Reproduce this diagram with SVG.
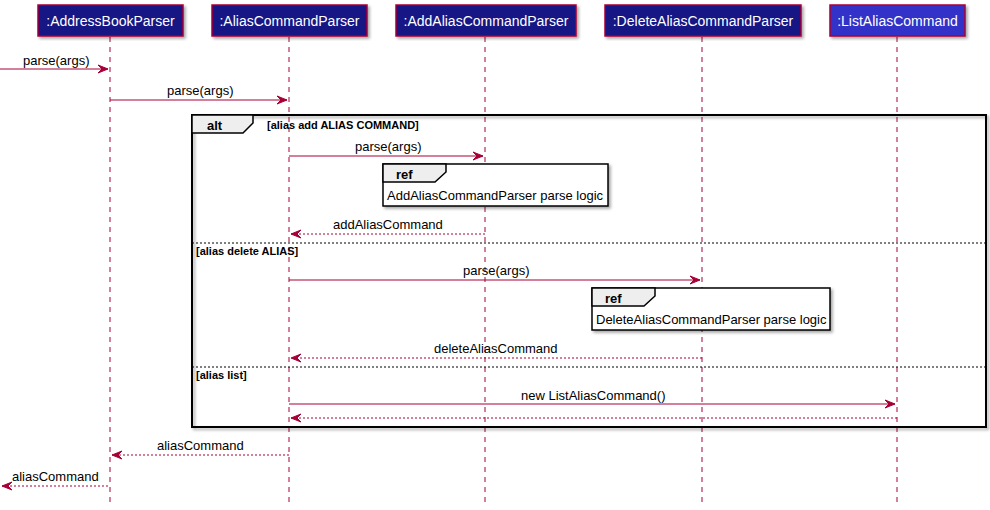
<svg xmlns="http://www.w3.org/2000/svg" width="990" height="510" viewBox="0 0 990 510">
<style>
.life{stroke:#A80036;stroke-width:1;stroke-dasharray:5,5;fill:none}
.pbox{fill:#131384;stroke:#A80036;stroke-width:1.5}
.pbox2{fill:#3333C8;stroke:#A80036;stroke-width:1.5}
.ptxt{font-family:"Liberation Sans",Arial,sans-serif;font-size:14px;fill:#FFFFFF}
.msg{stroke:#A80036;stroke-width:1;fill:none}
.ret{stroke:#A80036;stroke-width:1;fill:none;stroke-dasharray:2,2}
.mtxt{font-family:"Liberation Sans",Arial,sans-serif;font-size:13px;fill:#000000}
.frame{fill:none;stroke:#000000;stroke-width:2}
.tab{fill:#EEEEEE;stroke:#000000;stroke-width:1.5}
.sep{stroke:#000000;stroke-width:1;stroke-dasharray:2,2}
.btxt{font-family:"Liberation Sans",Arial,sans-serif;font-size:13px;font-weight:bold;fill:#000000}
.gtxt{font-family:"Liberation Sans",Arial,sans-serif;font-size:11px;font-weight:bold;fill:#000000}
.refbox{fill:#FFFFFF;stroke:#000000;stroke-width:1.5}
.ah{fill:#A80036;stroke:#A80036;stroke-width:1}
</style>
<defs>
<filter id="sh" x="-5%" y="-5%" width="110%" height="120%">
<feOffset dx="2" dy="2" in="SourceAlpha" result="o"/>
<feGaussianBlur stdDeviation="1.5" in="o" result="b"/>
<feColorMatrix in="b" type="matrix" values="0 0 0 0 0  0 0 0 0 0  0 0 0 0 0  0 0 0 0.35 0" result="c"/>
<feMerge><feMergeNode in="c"/><feMergeNode in="SourceGraphic"/></feMerge>
</filter>
</defs>
<rect width="990" height="510" fill="#FFFFFF"/>

<g id="lifelines">
<line class="life" x1="110" y1="37" x2="110" y2="503"/>
<line class="life" x1="289" y1="37" x2="289" y2="503"/>
<line class="life" x1="485" y1="37" x2="485" y2="503"/>
<line class="life" x1="702" y1="37" x2="702" y2="503"/>
<line class="life" x1="897" y1="37" x2="897" y2="503"/>
</g>

<g id="AddressBookParser">
<rect class="pbox" x="38" y="5" width="145" height="31" filter="url(#sh)"/>
<text class="ptxt" x="110.5" y="25.5" text-anchor="middle">:AddressBookParser</text>
</g>
<g id="AliasCommandParser">
<rect class="pbox" x="212" y="5" width="155" height="31" filter="url(#sh)"/>
<text class="ptxt" x="289.5" y="25.5" text-anchor="middle">:AliasCommandParser</text>
</g>
<g id="AddAliasCommandParser">
<rect class="pbox" x="396" y="5" width="180" height="31" filter="url(#sh)"/>
<text class="ptxt" x="486" y="25.5" text-anchor="middle">:AddAliasCommandParser</text>
</g>
<g id="DeleteAliasCommandParser">
<rect class="pbox" x="605" y="5" width="196" height="31" filter="url(#sh)"/>
<text class="ptxt" x="703" y="25.5" text-anchor="middle">:DeleteAliasCommandParser</text>
</g>
<g id="ListAliasCommand">
<rect class="pbox2" x="830" y="5" width="135" height="31" filter="url(#sh)"/>
<text class="ptxt" x="897.5" y="25.5" text-anchor="middle">:ListAliasCommand</text>
</g>

<g id="alt-frame">
<rect class="frame" x="192" y="115" width="794" height="312" filter="url(#sh)"/>
<polygon class="tab" points="192,115 253,115 253,123 243,133 192,133"/>
<text class="btxt" x="207" y="130">alt</text>
<text class="gtxt" x="267" y="129">[alias add ALIAS COMMAND]</text>
<line class="sep" x1="192" y1="243" x2="986" y2="243"/>
<text class="gtxt" x="196" y="255">[alias delete ALIAS]</text>
<line class="sep" x1="192" y1="367" x2="986" y2="367"/>
<text class="gtxt" x="196" y="379">[alias list]</text>
</g>

<g id="ref-add">
<rect class="refbox" x="383" y="164" width="225" height="42" filter="url(#sh)"/>
<polygon class="tab" points="383,164 446,164 446,172 435,182 383,182"/>
<text class="btxt" x="396" y="179">ref</text>
<text class="mtxt" x="387" y="200">AddAliasCommandParser parse logic</text>
</g>

<g id="ref-delete">
<rect class="refbox" x="592" y="288" width="238" height="42" filter="url(#sh)"/>
<polygon class="tab" points="592,288 655,288 655,296 644,306 592,306"/>
<text class="btxt" x="605" y="303">ref</text>
<text class="mtxt" x="596" y="324">DeleteAliasCommandParser parse logic</text>
</g>

<g id="connectors">
<line class="msg" x1="0" y1="69" x2="108" y2="69"/>
<polygon class="ah" points="98,65 108,69 98,73 102,69"/>
<text class="mtxt" x="23" y="65">parse(args)</text>

<line class="msg" x1="110" y1="100" x2="287" y2="100"/>
<polygon class="ah" points="277,96 287,100 277,104 281,100"/>
<text class="mtxt" x="167" y="95">parse(args)</text>

<line class="msg" x1="289" y1="156" x2="483" y2="156"/>
<polygon class="ah" points="473,152 483,156 473,160 477,156"/>
<text class="mtxt" x="355" y="151">parse(args)</text>

<line class="ret" x1="485" y1="234" x2="291" y2="234"/>
<polygon class="ah" points="301,230 291,234 301,238 297,234"/>
<text class="mtxt" x="333" y="229">addAliasCommand</text>

<line class="msg" x1="289" y1="280" x2="700" y2="280"/>
<polygon class="ah" points="690,276 700,280 690,284 694,280"/>
<text class="mtxt" x="463" y="275">parse(args)</text>

<line class="ret" x1="702" y1="358" x2="291" y2="358"/>
<polygon class="ah" points="301,354 291,358 301,362 297,358"/>
<text class="mtxt" x="434" y="353">deleteAliasCommand</text>

<line class="msg" x1="289" y1="404" x2="895" y2="404"/>
<polygon class="ah" points="885,400 895,404 885,408 889,404"/>
<text class="mtxt" x="521" y="400">new ListAliasCommand()</text>

<line class="ret" x1="897" y1="418" x2="291" y2="418"/>
<polygon class="ah" points="301,414 291,418 301,422 297,418"/>

<line class="ret" x1="289" y1="455" x2="112" y2="455"/>
<polygon class="ah" points="122,451 112,455 122,459 118,455"/>
<text class="mtxt" x="157" y="450">aliasCommand</text>

<line class="ret" x1="108" y1="486" x2="2" y2="486"/>
<polygon class="ah" points="12,482 2,486 12,490 8,486"/>
<text class="mtxt" x="12" y="481">aliasCommand</text>
</g>
</svg>
